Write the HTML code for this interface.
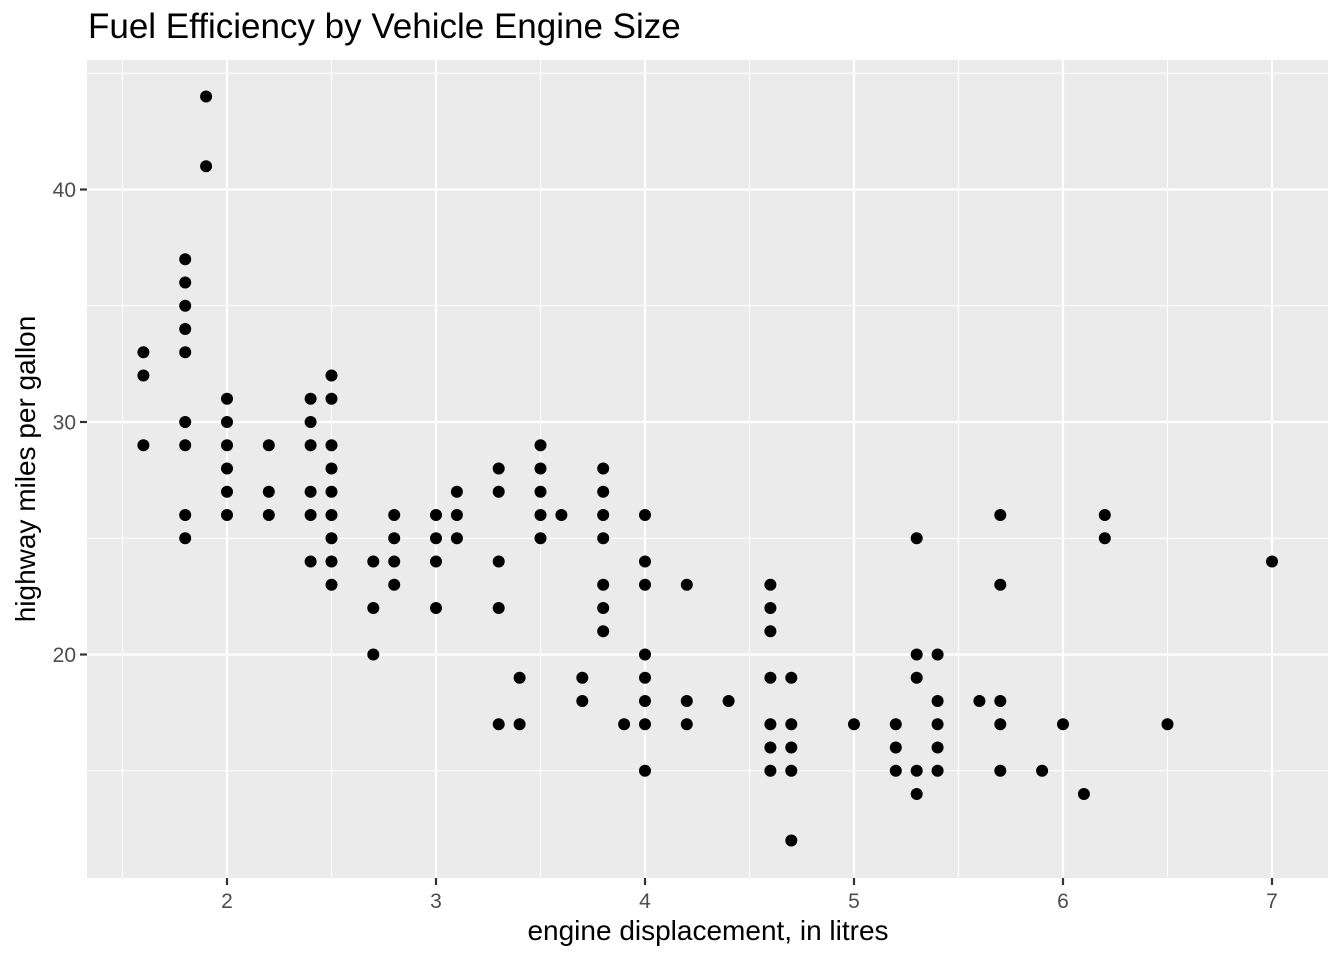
<!DOCTYPE html>
<html><head><meta charset="utf-8"><style>
html,body{margin:0;padding:0;background:#fff;}
svg{display:block;font-family:"Liberation Sans",sans-serif;}
</style></head><body>
<svg id="chart" width="1344" height="960" xmlns="http://www.w3.org/2000/svg">
<text x="88" y="38" font-size="35" fill="#000">Fuel Efficiency by Vehicle Engine Size</text>
<rect x="87" y="60" width="1241" height="818" fill="#ebebeb"/>
<g id="grid"></g>
<g id="pts"></g>
<g id="axes"></g>
<text x="708" y="940" font-size="28" text-anchor="middle" fill="#000">engine displacement, in litres</text>
<text transform="translate(35,469) rotate(-90)" font-size="28" text-anchor="middle" fill="#000">highway miles per gallon</text>
</svg>
<script>
const displ = [1.6,1.6,1.6, 1.8,1.8,1.8,1.8,1.8,1.8,1.8,1.8,1.8, 1.9,1.9, 2,2,2,2,2,2, 2.2,2.2,2.2, 2.4,2.4,2.4,2.4,2.4,2.4, 2.5,2.5,2.5,2.5,2.5,2.5,2.5,2.5,2.5, 2.7,2.7,2.7, 2.8,2.8,2.8,2.8, 3,3,3,3, 3.1,3.1,3.1, 3.3,3.3,3.3,3.3,3.3, 3.4,3.4, 3.5,3.5,3.5,3.5,3.5, 3.6, 3.7,3.7, 3.8,3.8,3.8,3.8,3.8,3.8,3.8, 3.9, 4,4,4,4,4,4,4,4, 4.2,4.2,4.2, 4.4, 4.6,4.6,4.6,4.6,4.6,4.6,4.6, 4.7,4.7,4.7,4.7,4.7, 5, 5.2,5.2,5.2, 5.3,5.3,5.3,5.3,5.3, 5.4,5.4,5.4,5.4,5.4, 5.6, 5.7,5.7,5.7,5.7,5.7, 5.9, 6, 6.1, 6.2,6.2, 6.5, 7];
const hwy = [33,32,29, 37,36,35,34,33,30,29,26,25, 44,41, 31,30,29,28,27,26, 29,27,26, 31,30,29,27,26,24, 32,31,29,28,27,26,25,24,23, 24,22,20, 26,25,24,23, 26,25,24,22, 27,26,25, 28,27,24,22,17, 19,17, 29,28,27,26,25, 26, 19,18, 28,27,26,25,23,22,21, 17, 26,24,23,20,19,18,17,15, 23,18,17, 18, 23,22,21,19,17,16,15, 19,17,16,15,12, 17, 17,16,15, 25,20,19,15,14, 20,18,17,16,15, 18, 26,23,18,17,15, 15, 17, 14, 26,25, 17, 24];
const xTicks = [2,3,4,5,6,7];
const xMinor = [1.5,2.5,3.5,4.5,5.5,6.5];
const yTicks = [20,30,40];
const yMinor = [15,25,35,45];

const NS="http://www.w3.org/2000/svg";
const sx = v => 227 + (v-2)*209;
const sy = v => 422 - (v-30)*23.25;
const L=87,R=1328,T=60,B=878;
function mk(tag, attrs, parent){const e=document.createElementNS(NS,tag);for(const k in attrs)e.setAttribute(k,attrs[k]);parent.appendChild(e);return e;}
const grid=document.getElementById('grid'), pts=document.getElementById('pts'), axes=document.getElementById('axes');
xMinor.forEach(v=>{const e=mk('line',{x1:sx(v),x2:sx(v),y1:T,y2:B,stroke:'#fff','stroke-width':1.1},grid);

});
yMinor.forEach(v=>{const e=mk('line',{x1:L,x2:R,y1:sy(v),y2:sy(v),stroke:'#fff','stroke-width':1.1},grid);

});
xTicks.forEach(v=>{const e=mk('line',{x1:sx(v),x2:sx(v),y1:T,y2:B,stroke:'#fff','stroke-width':2.2},grid);


const t=mk('line',{x1:sx(v),x2:sx(v),y1:B,y2:B+7,stroke:'#333','stroke-width':2.2},axes);


const l=mk('text',{x:sx(v),y:908,'font-size':21,'text-anchor':'middle',fill:'#4d4d4d'},axes);l.textContent=v;

});
yTicks.forEach(v=>{const e=mk('line',{x1:L,x2:R,y1:sy(v),y2:sy(v),stroke:'#fff','stroke-width':2.2},grid);


const t=mk('line',{x1:L-7,x2:L,y1:sy(v),y2:sy(v),stroke:'#333','stroke-width':2.2},axes);


const l=mk('text',{x:L-11,y:sy(v)+7.5,'font-size':21,'text-anchor':'end',fill:'#4d4d4d'},axes);l.textContent=v;

});
displ.forEach((d,i)=>{const c=mk('circle',{cx:sx(d),cy:sy(hwy[i]),r:6,fill:'#000'},pts);

});
</script>
</body></html>
